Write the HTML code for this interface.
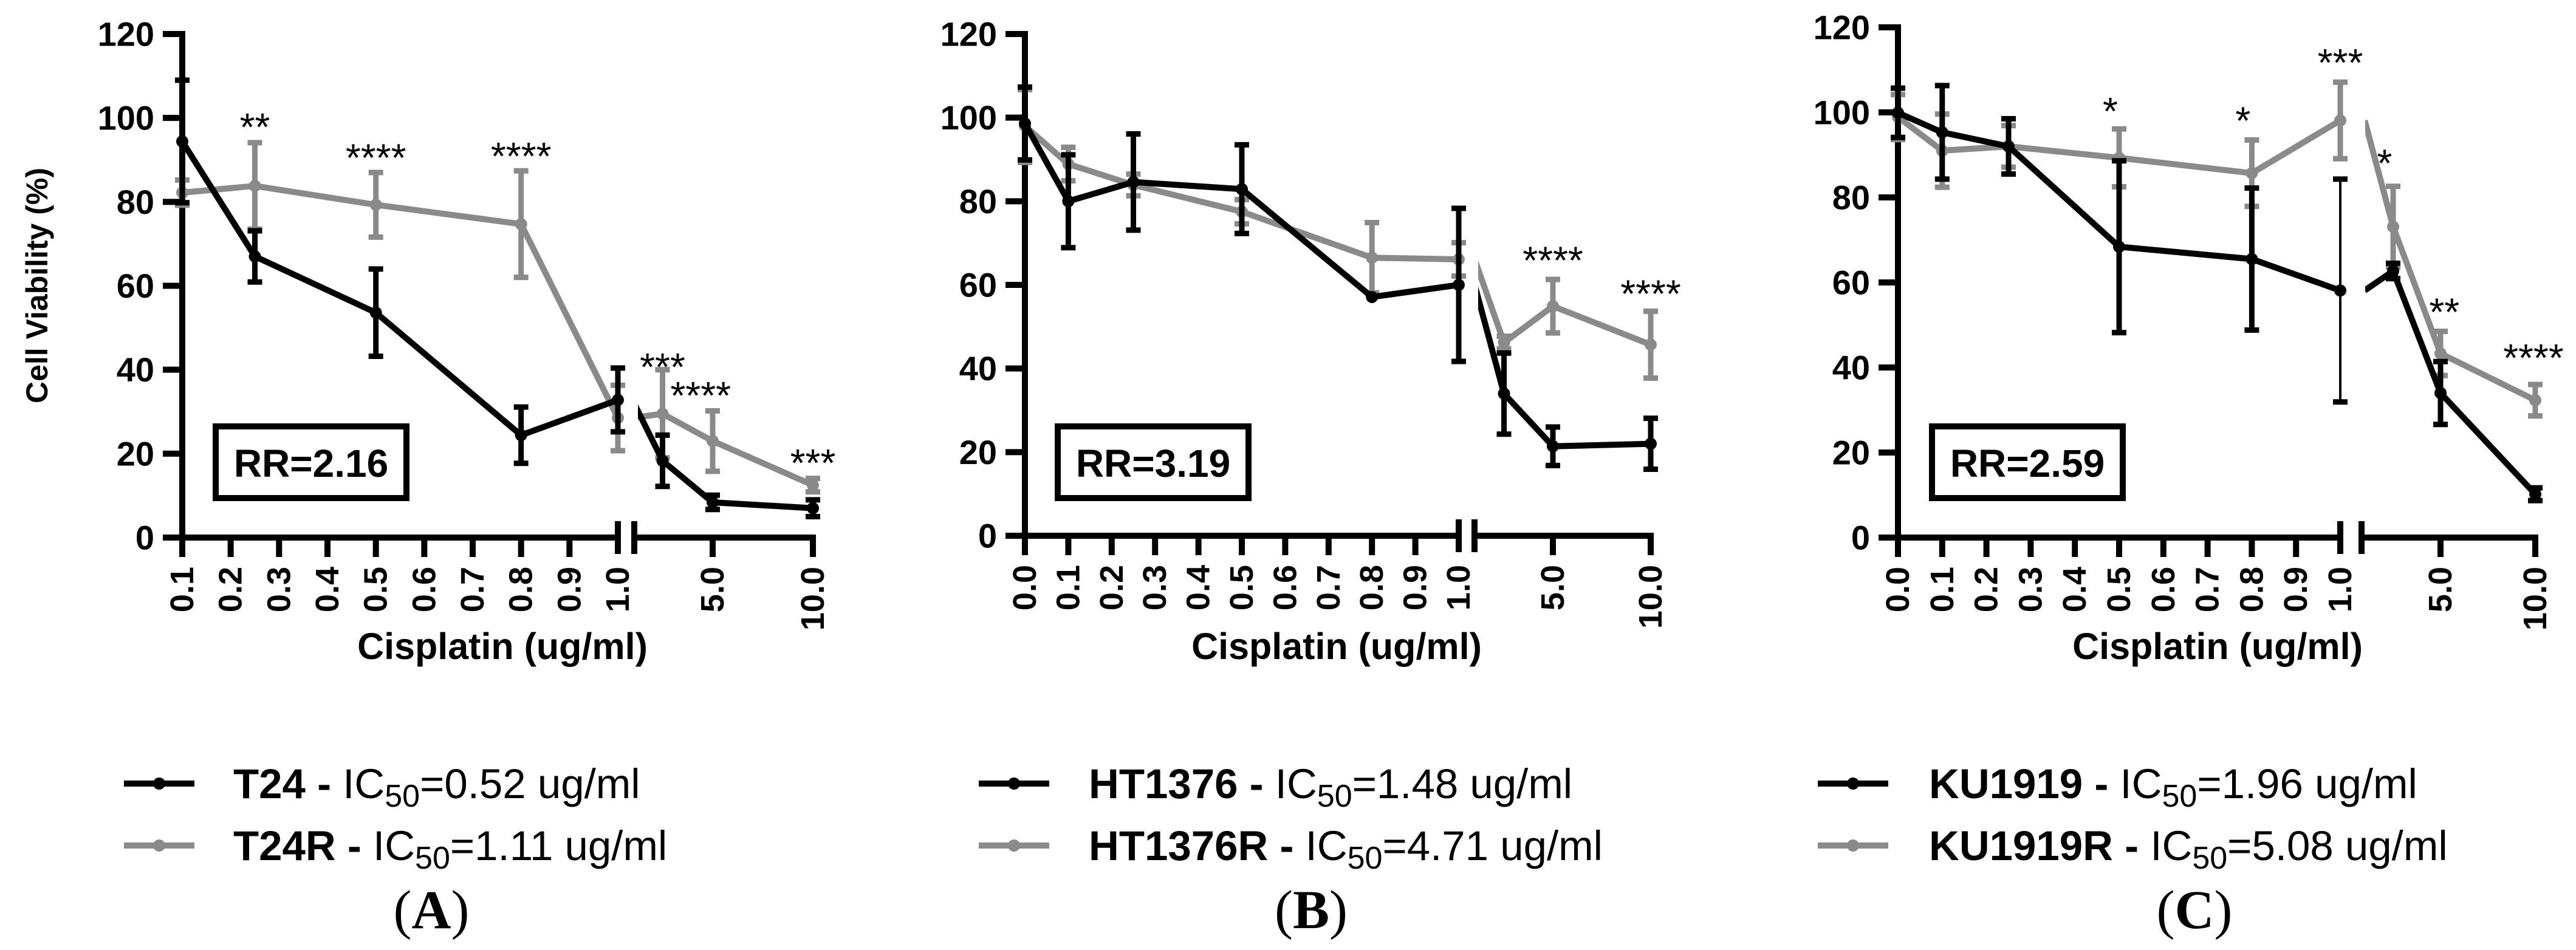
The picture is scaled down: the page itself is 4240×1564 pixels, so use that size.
<!DOCTYPE html>
<html><head><meta charset="utf-8"><style>
html,body{margin:0;padding:0;background:#fff;}
svg{display:block;font-family:"Liberation Sans",Arial,sans-serif;}
</style></head><body>
<svg id="fig" width="4240" height="1564" viewBox="0 0 4240 1564" xmlns="http://www.w3.org/2000/svg"></svg>
<script>
// ---------- Panel A data ----------
const doseA = [0.1, 0.25, 0.5, 0.8, 1.0, 2.5, 5, 10];
const t24 = [94.4, 67, 53.6, 24.4, 32.8, 18.3, 8.4, 7];
const t24Err = [14.6, 6.1, 10.4, 6.7, 7.6, 6.1, 1.7, 2.0];
const t24R = [82.2, 83.8, 79.3, 74.7, 28.5, 29.5, 23, 12.5];
const t24RErr = [3, 10.3, 7.7, 12.7, 7.8, 10.5, 7.2, 1.6];
const starDoseA = [0.25, 0.5, 0.8, 2.5, 4.4, 10];
const starValA = [99.9, 92.6, 92.9, 42.7, 35.9, 19.8];
const starLblA = ["**", "****", "****", "***", "****", "***"];
// ---------- Panel B data ----------
const doseB = [0.0, 0.1, 0.25, 0.5, 0.8, 1.0, 2.5, 5, 10];
const ht1376 = [98.6, 80, 84.6, 82.9, 57.1, 60, 34, 21.4, 22];
const ht1376Err = [8.7, 11.1, 11.5, 10.6, 0.5, 18.3, 9.7, 4.6, 6.1];
const ht1376R = [98, 88.9, 83.9, 77.5, 66.5, 66.1, 46.2, 54.9, 45.7];
const ht1376RErr = [8.7, 4, 2.6, 2.9, 8.4, 4, 1.5, 6.4, 8];
const starDoseB = [5, 10];
const starValB = [67.9, 59.9];
const starLblB = ["****", "****"];
// ---------- Panel C data ----------
const doseC = [0.0, 0.1, 0.25, 0.5, 0.8, 1.0, 2.5, 5, 10];
const ku1919 = [99.9, 95.3, 92, 68.4, 65.5, 58.1, 62.7, 34, 10.2];
const ku1919Err = [5.8, 11, 6.5, 20.2, 16.7, 26.2, 1.8, 7.4, 1.5];
const ku1919R = [98.9, 91, 92, 89.3, 85.7, 98.1, 73.1, 43.3, 32.3];
const ku1919RErr = [5.3, 8.6, 4.9, 6.8, 7.8, 9, 9.5, 5.2, 3.7];
const starDoseC = [0.48, 0.78, 1.0, 2.05, 5.2, 9.9];
const starValC = [102.3, 100.1, 113.7, 90.1, 55.1, 44.3];
const starLblC = ["*", "*", "***", "*", "**", "****"];
// ---------- ticks ----------
const yTicks = [0, 20, 40, 60, 80, 100, 120];
const seg2Ticks = [5, 10];
const seg2Labels = ["5.0", "10.0"];

const NS = "http://www.w3.org/2000/svg";
const svg = document.getElementById('fig');
function mk(tag, attrs, parent, txt) {
  const e = document.createElementNS(NS, tag);
  for (const k in attrs) e.setAttribute(k, attrs[k]);
  if (txt !== undefined) e.textContent = txt;
  (parent || svg).appendChild(e);
  return e;
}
const BLACK = "#000", GRAY = "#8a8a8a";

function panel(cfg) {
  const g = mk('g', {});
  
  
  const y = v => cfg.y0 - v * (cfg.y0 - cfg.y120) / 120;
  const xs1 = v => cfg.x1s + (v - cfg.d1s) * (cfg.x1e - cfg.x1s) / (1.0 - cfg.d1s);
  const xs2 = v => cfg.x5 + (v - 5) * (cfg.x10 - cfg.x5) / 5;
  const xd = v => v <= 1.0001 ? xs1(v) : xs2(v);

  const ya = mk('g', {}, g);
  
  
  mk('line', {x1: cfg.x1s, y1: y(120) - 5, x2: cfg.x1s, y2: cfg.y0 + 5, stroke: BLACK, 'stroke-width': 10}, ya);
  yTicks.forEach(t => {
    mk('line', {x1: cfg.x1s - 32, y1: y(t), x2: cfg.x1s, y2: y(t), stroke: BLACK, 'stroke-width': 10}, ya);
    const lb = mk('text', {x: cfg.x1s - 46, y: y(t), 'text-anchor': 'end', 'dominant-baseline': 'central', 'font-size': 56, 'font-weight': 'bold'}, ya, String(t));
    
    
  });
  const xa = mk('g', {}, g);
  
  
  mk('line', {x1: cfg.x1s - 32, y1: cfg.y0, x2: cfg.x1e + 5, y2: cfg.y0, stroke: BLACK, 'stroke-width': 10}, xa);
  for (let i = 0; i <= cfg.nTicks1; i++) {
    const v = cfg.d1s + i * 0.1;
    const xx = xs1(v);
    const isEnd = i === cfg.nTicks1;
    mk('line', {x1: xx, y1: isEnd ? cfg.y0 - 27 : cfg.y0, x2: xx, y2: cfg.y0 + (isEnd ? 27 : 32), stroke: BLACK, 'stroke-width': 10}, xa);
    const lb = mk('text', {transform: `translate(${xx},${cfg.y0 + 48}) rotate(-90)`, 'text-anchor': 'end', 'dominant-baseline': 'central', 'font-size': 54, 'font-weight': 'bold'}, xa, v.toFixed(1));
    
    
  }
  mk('line', {x1: cfg.x2s, y1: cfg.y0, x2: cfg.x10 + 5, y2: cfg.y0, stroke: BLACK, 'stroke-width': 10}, xa);
  mk('line', {x1: cfg.x2s, y1: cfg.y0 - 27, x2: cfg.x2s, y2: cfg.y0 + 27, stroke: BLACK, 'stroke-width': 10}, xa);
  seg2Ticks.forEach((t, i) => {
    const xx = xs2(t);
    mk('line', {x1: xx, y1: cfg.y0, x2: xx, y2: cfg.y0 + 32, stroke: BLACK, 'stroke-width': 10}, xa);
    const lb = mk('text', {transform: `translate(${xx},${cfg.y0 + 48}) rotate(-90)`, 'text-anchor': 'end', 'dominant-baseline': 'central', 'font-size': 54, 'font-weight': 'bold'}, xa, seg2Labels[i]);
    
    
  });
  const xt = mk('text', {x: cfg.xTitle, y: 1085, 'text-anchor': 'middle', 'font-size': 61, 'font-weight': 'bold'}, g, 'Cisplatin (ug/ml)');
  
  

  const cid = cfg.name + '-clip';
  const cp = mk('clipPath', {id: cid}, g);
  mk('rect', {x: cfg.x2s + 6, y: 0, width: 400, height: 1000}, cp);

  cfg.series.forEach(s => {
    const sg = mk('g', {}, g);
    
    
    const dose = cfg.dose;
    const p1 = [], p2 = [];
    dose.forEach((d, i) => {
      if (d <= 1.0001) p1.push(xs1(d) + ',' + y(s.vals[i]));
      if (d >= 0.9999) p2.push(xs2(d) + ',' + y(s.vals[i]));
    });
    const l1 = mk('polyline', {points: p1.join(' '), fill: 'none', stroke: s.color, 'stroke-width': 10, 'stroke-linejoin': 'round'}, sg);
    
    
    const l2 = mk('polyline', {points: p2.join(' '), fill: 'none', stroke: s.color, 'stroke-width': 10, 'stroke-linejoin': 'round', 'clip-path': `url(#${cid})`}, sg);
    
    
    dose.forEach((d, i) => {
      const xx = xd(d), v = s.vals[i], e = s.err[i];
      const thin = s.thin && s.thin.indexOf(i) >= 0;
      const sw = thin ? 4 : 9;
      if (e > 0.8) {
        const eb = mk('g', {}, sg);
        
        
        mk('line', {x1: xx, y1: y(v + e), x2: xx, y2: y(v - e), stroke: s.color, 'stroke-width': sw}, eb);
        mk('line', {x1: xx - 12, y1: y(v + e), x2: xx + 12, y2: y(v + e), stroke: s.color, 'stroke-width': 9}, eb);
        mk('line', {x1: xx - 12, y1: y(v - e), x2: xx + 12, y2: y(v - e), stroke: s.color, 'stroke-width': 9}, eb);
      }
      const c = mk('circle', {cx: xx, cy: y(v), r: 10, fill: s.color}, sg);
      
      
    });
  });
  cfg.starDose.forEach((d, i) => {
    const st = mk('text', {x: xd(d), y: y(cfg.starVal[i]) + 36, 'text-anchor': 'middle', 'font-size': 64}, g, cfg.starLbl[i]);
    
    
  });
  const rb = mk('g', {}, g);
  
  
  mk('rect', {x: cfg.rr[0] + 5, y: 702, width: 314, height: 118, fill: '#fff', stroke: BLACK, 'stroke-width': 10}, rb);
  mk('text', {x: cfg.rr[0] + 162, y: 785, 'text-anchor': 'middle', 'font-size': 64, 'font-weight': 'bold'}, rb, cfg.rrText);
  cfg.legend.forEach((L, i) => {
    const ly = 1290 + i * 102;
    const lg = mk('g', {}, g);
    
    
    mk('line', {x1: cfg.legX, y1: ly, x2: cfg.legX + 116, y2: ly, stroke: L.color, 'stroke-width': 10}, lg);
    mk('circle', {cx: cfg.legX + 58, cy: ly, r: 10, fill: L.color}, lg);
    const t = mk('text', {x: cfg.legTX, y: ly + 24, 'font-size': 69}, lg);
    mk('tspan', {'font-weight': 'bold'}, t, L.name + ' - ');
    mk('tspan', {}, t, 'IC');
    mk('tspan', {dy: 14, 'font-size': 52}, t, '50');
    mk('tspan', {dy: -14}, t, '=' + L.ic);
  });
  const pl = mk('text', {x: cfg.lblX, y: 1528, 'text-anchor': 'middle', 'font-size': 90, 'font-family': '"Liberation Serif", serif'}, g);
  mk('tspan', {}, pl, '(');
  mk('tspan', {'font-weight': 'bold'}, pl, cfg.letter);
  mk('tspan', {}, pl, ')');
  
  
}

panel({name: 'panel-a', dose: doseA, d1s: 0.1, nTicks1: 9, x1s: 300, x1e: 1017, x2s: 1044, x5: 1173, x10: 1338,
  y0: 885, y120: 56, xTitle: 827,
  series: [{name: 't24r-series', color: GRAY, vals: t24R, err: t24RErr}, {name: 't24-series', color: BLACK, vals: t24, err: t24Err}],
  starDose: starDoseA, starVal: starValA, starLbl: starLblA, rr: [350], rrText: 'RR=2.16',
  legend: [{name: 'T24', ic: '0.52 ug/ml', color: BLACK}, {name: 'T24R', ic: '1.11 ug/ml', color: GRAY}],
  legX: 204, legTX: 384, lblX: 710, letter: 'A'});
panel({name: 'panel-b', dose: doseB, d1s: 0.0, nTicks1: 10, x1s: 1687, x1e: 2401, x2s: 2427, x5: 2556, x10: 2717,
  y0: 882, y120: 56, xTitle: 2200,
  series: [{name: 'ht1376r-series', color: GRAY, vals: ht1376R, err: ht1376RErr}, {name: 'ht1376-series', color: BLACK, vals: ht1376, err: ht1376Err}],
  starDose: starDoseB, starVal: starValB, starLbl: starLblB, rr: [1736], rrText: 'RR=3.19',
  legend: [{name: 'HT1376', ic: '1.48 ug/ml', color: BLACK}, {name: 'HT1376R', ic: '4.71 ug/ml', color: GRAY}],
  legX: 1611, legTX: 1792, lblX: 2158, letter: 'B'});
panel({name: 'panel-c', dose: doseC, d1s: 0.0, nTicks1: 10, x1s: 3124, x1e: 3852, x2s: 3887, x5: 4017, x10: 4173,
  y0: 885, y120: 45, xTitle: 3650,
  series: [{name: 'ku1919r-series', color: GRAY, vals: ku1919R, err: ku1919RErr}, {name: 'ku1919-series', color: BLACK, vals: ku1919, err: ku1919Err, thin: [5]}],
  starDose: starDoseC, starVal: starValC, starLbl: starLblC, rr: [3175], rrText: 'RR=2.59',
  legend: [{name: 'KU1919', ic: '1.96 ug/ml', color: BLACK}, {name: 'KU1919R', ic: '5.08 ug/ml', color: GRAY}],
  legX: 2992, legTX: 3175, lblX: 3612, letter: 'C'});

const yt = mk('text', {transform: 'translate(78,470) rotate(-90)', 'text-anchor': 'middle', 'font-size': 50, 'font-weight': 'bold'}, svg, 'Cell Viability (%)');


</script>
</body></html>
